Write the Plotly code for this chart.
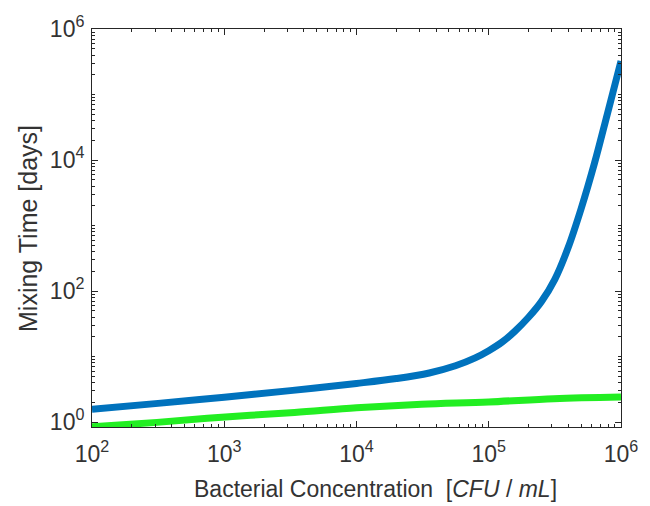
import plotly.graph_objects as go

# Bacterial concentration [CFU/mL] sample points
blue_x = [1e2, 3.16e2, 1e3, 3.16e3, 1e4, 2e4, 3.55e4, 5.6e4, 7.9e4, 1e5, 1.26e5, 1.58e5,
          2e5, 2.5e5, 3.16e5, 3.98e5, 5e5, 6.3e5, 7.9e5, 1e6]
blue_y = [1.57, 1.93, 2.40, 3.02, 3.89, 4.62, 5.62, 7.24, 9.55, 12.3, 16.6, 24.5,
          39.8, 69, 151, 457, 1820, 8910, 51300, 324000]

green_x = [1e2, 3.1e2, 1.02e3, 3.4e3, 1e4, 3.1e4, 1e5, 3.1e5, 1e6]
green_y = [0.85, 0.99, 1.20, 1.40, 1.65, 1.87, 2.03, 2.28, 2.41]

x_tick_vals = [1e2, 1e3, 1e4, 1e5, 1e6]
x_tick_text = ["10<sup>2</sup>", "10<sup>3</sup>", "10<sup>4</sup>", "10<sup>5</sup>", "10<sup>6</sup>"]
y_tick_vals = [1e0, 1e2, 1e4, 1e6]
y_tick_text = ["10<sup>0</sup>", "10<sup>2</sup>", "10<sup>4</sup>", "10<sup>6</sup>"]

x_title = "Bacterial Concentration  [<i>CFU</i> / <i>mL</i>]"
y_title = "Mixing Time [days]"

FONT = "Liberation Sans, Arial, Helvetica, sans-serif"
AX = "#262626"
TXT = "#333333"

def minor_vals(lo, hi):
    vals = []
    for k in range(lo, hi):
        for d in range(1, 10):
            vals.append(d * 10.0 ** k)
    return vals

fig = go.Figure()
fig.add_trace(go.Scatter(x=blue_x, y=blue_y, mode="lines",
                         line=dict(color="#0072BD", width=7, shape="spline", smoothing=1.0),
                         showlegend=False))
fig.add_trace(go.Scatter(x=green_x, y=green_y, mode="lines",
                         line=dict(color="#22EE22", width=7, shape="spline", smoothing=1.0),
                         showlegend=False))

fig.update_xaxes(type="log", range=[2, 6], tickvals=x_tick_vals, ticktext=x_tick_text,
                 ticks="inside", ticklen=6, tickcolor=AX, showline=True, linecolor=AX,
                 linewidth=1, mirror="ticks", showgrid=False, zeroline=False,
                 ticklabelstandoff=6,
                 tickfont=dict(family=FONT, size=23, color=TXT),
                 minor=dict(tickvals=minor_vals(2, 6), ticks="inside", ticklen=3, tickcolor=AX, showgrid=False))
fig.update_yaxes(type="log", range=[-0.075, 6], tickvals=y_tick_vals, ticktext=y_tick_text,
                 ticks="inside", ticklen=6, tickcolor=AX, showline=True, linecolor=AX,
                 linewidth=1, mirror="ticks", showgrid=False, zeroline=False,
                 ticklabelstandoff=2,
                 tickfont=dict(family=FONT, size=23, color=TXT),
                 minor=dict(tickvals=minor_vals(0, 6), ticks="inside", ticklen=3, tickcolor=AX, showgrid=False))

fig.add_annotation(text=x_title, xref="paper", yref="paper", x=0.536, y=-0.157,
                   xanchor="center", yanchor="middle", showarrow=False,
                   font=dict(family=FONT, size=23, color=TXT))
fig.add_annotation(text=y_title, xref="paper", yref="paper", x=-0.121, y=0.5,
                   xanchor="center", yanchor="middle", showarrow=False, textangle=-90,
                   font=dict(family=FONT, size=25, color=TXT))

fig.update_layout(width=650, height=506, margin=dict(l=92, r=21, t=25, b=79),
                  paper_bgcolor="white", plot_bgcolor="white",
                  font=dict(family=FONT, color=TXT))

fig.write_html("out.html")
